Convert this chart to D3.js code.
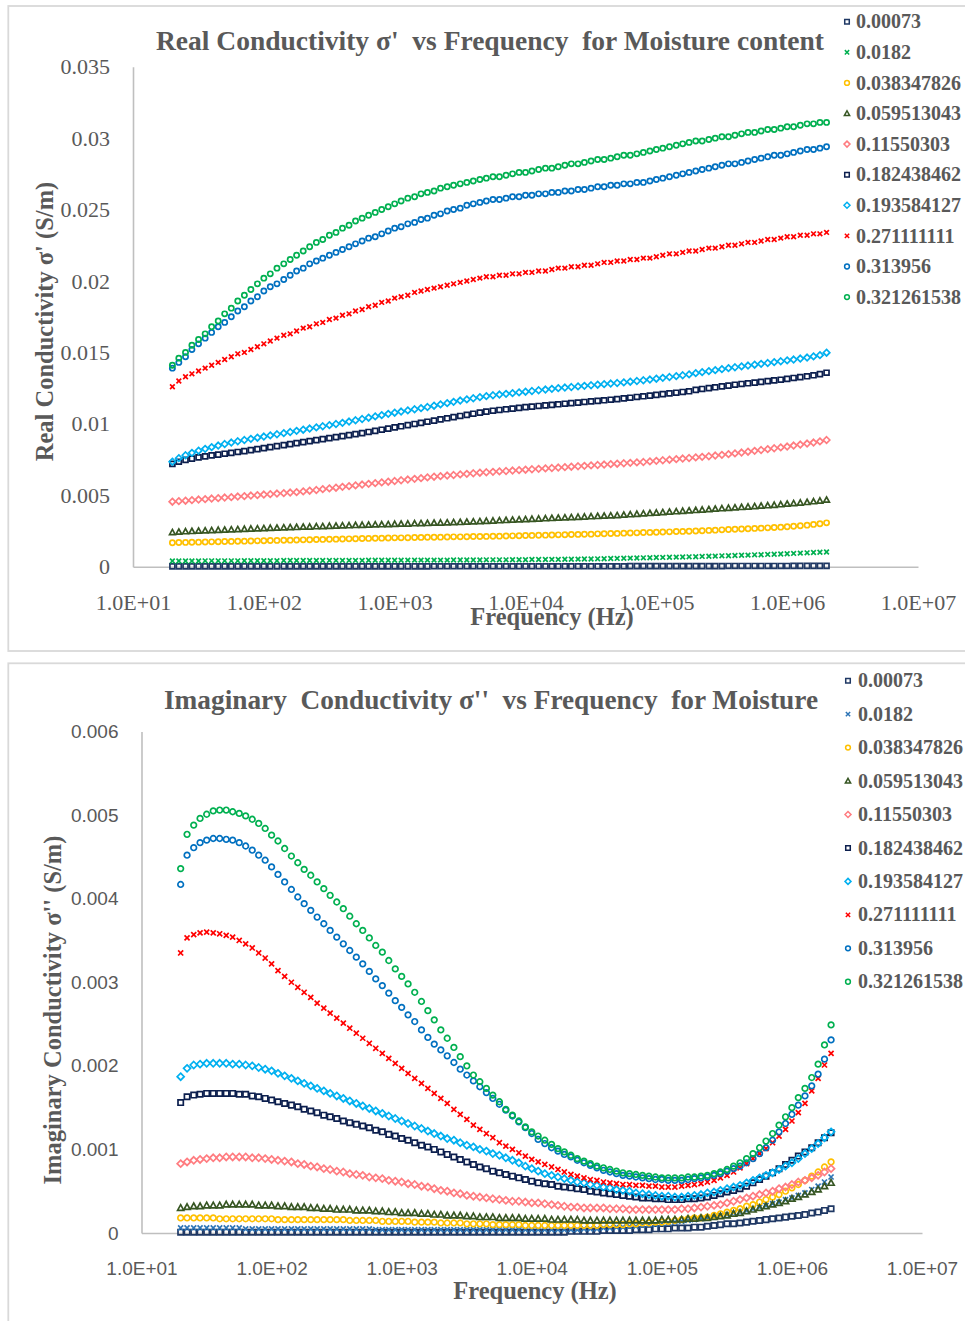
<!DOCTYPE html>
<html>
<head>
<meta charset="utf-8">
<script src="https://cdn.jsdelivr.net/npm/d3@7"></script>
<style>
  body { margin: 0; background: #fff; }
  svg { display: block; }
</style>
</head>
<body>
<div id="charts"></div>
<script>
// DATA (frequency grid shared by every series, values in S/m)
const freqHz = [
  20, 22.4, 25.2, 28.2, 31.7, 35.6, 39.9, 44.8, 50.2, 56.4, 63.2, 71.0, 79.6, 89.3, 100, 112, 126, 142, 159, 178,
  200, 224, 252, 282, 317, 356, 399, 448, 502, 564, 632, 710, 796, 893, 1000, 1120, 1260, 1420, 1590, 1780,
  2000, 2240, 2520, 2820, 3170, 3560, 3990, 4480, 5020, 5640, 6320, 7100, 7960, 8930, 10000, 11200, 12600, 14200, 15900, 17800,
  20000, 22400, 25200, 28200, 31700, 35600, 39900, 44800, 50200, 56400, 63200, 71000, 79600, 89300, 100000, 112000, 126000, 142000, 159000, 178000,
  200000, 224000, 252000, 282000, 317000, 356000, 399000, 448000, 502000, 564000, 632000, 710000, 796000, 893000, 1000000, 1120000, 1260000, 1420000, 1590000, 1780000,
  2000000
];

const moistureLabels = ['0.00073', '0.0182', '0.038347826', '0.059513043', '0.11550303',
                        '0.182438462', '0.193584127', '0.271111111', '0.313956', '0.321261538'];

const xTickValues = [1e1, 1e2, 1e3, 1e4, 1e5, 1e6, 1e7];
const yTicksReal = [0, 0.005, 0.01, 0.015, 0.02, 0.025, 0.03, 0.035];
const yTicksImag = [0, 0.001, 0.002, 0.003, 0.004, 0.005, 0.006];

// Real conductivity, one array per moisture content
const realM1 = [
  .00002,.00002,.00002,.00002,.00002,.00002,.00002,.00002,.00002,.00002,.00002,.00002,.00002,.00002,.00002,.00002,.00002,.00002,.00002,.00002,
  .00002,.00002,.00002,.00002,.00002,.00002,.00002,.00002,.00002,.00002,.00002,.00002,.00002,.00002,.00002,.00002,.00002,.00002,.00002,.00002,
  .00003,.00003,.00003,.00003,.00003,.00003,.00003,.00003,.00003,.00003,.00003,.00003,.00003,.00003,.00003,.00003,.00003,.00003,.00003,.00003,
  .00003,.00003,.00003,.00003,.00003,.00003,.00003,.00003,.00003,.00003,.00004,.00004,.00004,.00004,.00004,.00004,.00004,.00004,.00004,.00004,
  .00004,.00004,.00004,.00004,.00004,.00005,.00005,.00005,.00005,.00005,.00005,.00005,.00005,.00005,.00005,.00006,.00006,.00006,.00006,.00006,.00006
];
const realM2 = [
  .00040,.00040,.00040,.00040,.00040,.00041,.00041,.00041,.00041,.00041,.00041,.00042,.00042,.00042,.00042,.00042,.00042,.00043,.00043,.00043,
  .00043,.00043,.00043,.00043,.00044,.00044,.00044,.00044,.00044,.00044,.00045,.00045,.00045,.00045,.00045,.00045,.00046,.00046,.00046,.00046,
  .00046,.00046,.00046,.00047,.00047,.00047,.00047,.00047,.00048,.00048,.00048,.00048,.00049,.00049,.00049,.00050,.00050,.00050,.00051,.00051,
  .00052,.00052,.00053,.00054,.00054,.00055,.00056,.00057,.00058,.00059,.00060,.00061,.00062,.00063,.00064,.00065,.00066,.00067,.00068,.00069,
  .00070,.00072,.00073,.00074,.00076,.00077,.00078,.00080,.00081,.00083,.00084,.00086,.00087,.00089,.00091,.00093,.00095,.00097,.00099,.00101,.00103
];
const realM3 = [
  .00168,.00169,.00170,.00171,.00172,.00173,.00174,.00175,.00176,.00177,.00178,.00179,.00180,.00181,.00182,.00183,.00184,.00185,.00186,.00187,
  .00188,.00189,.00190,.00191,.00192,.00193,.00194,.00195,.00196,.00197,.00198,.00199,.00200,.00201,.00202,.00202,.00203,.00204,.00205,.00206,
  .00206,.00207,.00208,.00209,.00209,.00210,.00211,.00211,.00212,.00213,.00214,.00215,.00216,.00217,.00218,.00219,.00220,.00221,.00222,.00223,
  .00224,.00225,.00226,.00227,.00228,.00230,.00231,.00232,.00233,.00235,.00236,.00237,.00239,.00240,.00241,.00243,.00244,.00246,.00247,.00248,
  .00250,.00252,.00254,.00256,.00258,.00260,.00262,.00264,.00266,.00268,.00270,.00272,.00274,.00277,.00280,.00283,.00287,.00291,.00296,.00301,.00307
];
const realM4 = [
  .00240,.00243,.00246,.00248,.00250,.00252,.00254,.00256,.00257,.00259,.00261,.00263,.00265,.00266,.00268,.00270,.00271,.00273,.00275,.00276,
  .00278,.00279,.00281,.00282,.00284,.00285,.00287,.00288,.00290,.00291,.00292,.00294,.00295,.00296,.00298,.00299,.00300,.00302,.00303,.00304,
  .00306,.00307,.00308,.00310,.00311,.00313,.00315,.00317,.00319,.00321,.00323,.00325,.00327,.00329,.00331,.00333,.00335,.00337,.00339,.00341,
  .00343,.00345,.00347,.00349,.00351,.00353,.00355,.00357,.00359,.00362,.00365,.00368,.00371,.00374,.00377,.00380,.00383,.00386,.00389,.00392,
  .00395,.00398,.00401,.00404,.00407,.00410,.00413,.00416,.00419,.00422,.00425,.00428,.00431,.00435,.00439,.00443,.00447,.00451,.00456,.00461,.00467
];
const realM5 = [
  .00455,.00459,.00462,.00466,.00470,.00473,.00477,.00480,.00484,.00487,.00491,.00494,.00498,.00501,.00505,.00508,.00512,.00515,.00519,.00522,
  .00527,.00532,.00537,.00543,.00548,.00553,.00559,.00564,.00569,.00575,.00580,.00585,.00590,.00595,.00600,.00605,.00610,.00615,.00620,.00625,
  .00630,.00634,.00638,.00642,.00646,.00650,.00654,.00658,.00661,.00664,.00667,.00670,.00673,.00676,.00679,.00682,.00685,.00688,.00691,.00694,
  .00697,.00700,.00703,.00706,.00709,.00712,.00715,.00718,.00721,.00724,.00727,.00730,.00733,.00737,.00741,.00745,.00749,.00753,.00757,.00761,
  .00765,.00769,.00773,.00778,.00783,.00788,.00793,.00799,.00805,.00811,.00817,.00823,.00829,.00835,.00841,.00848,.00855,.00862,.00869,.00877,.00887
];
const realM6 = [
  .00720,.00735,.00748,.00757,.00765,.00772,.00779,.00785,.00791,.00797,.00803,.00809,.00816,.00823,.00830,.00837,.00844,.00851,.00858,.00865,
  .00872,.00879,.00886,.00893,.00900,.00907,.00914,.00921,.00928,.00935,.00943,.00951,.00959,.00967,.00975,.00983,.00991,.00999,.01007,.01015,
  .01023,.01031,.01039,.01047,.01055,.01063,.01071,.01079,.01086,.01092,.01097,.01102,.01107,.01112,.01117,.01121,.01125,.01129,.01133,.01137,
  .01141,.01145,.01149,.01153,.01157,.01161,.01165,.01169,.01173,.01178,.01183,.01188,.01193,.01198,.01203,.01208,.01213,.01218,.01223,.01228,
  .01238,.01244,.01250,.01256,.01262,.01268,.01274,.01279,.01284,.01289,.01294,.01299,.01304,.01309,.01315,.01321,.01327,.01333,.01340,.01348,.01358
];
const realM7 = [
  .00735,.00760,.00780,.00797,.00812,.00825,.00837,.00848,.00859,.00869,.00878,.00887,.00895,.00903,.00911,.00919,.00927,.00935,.00943,.00951,
  .00959,.00967,.00975,.00983,.00991,.00999,.01007,.01016,.01025,.01034,.01043,.01052,.01061,.01070,.01078,.01086,.01094,.01102,.01110,.01118,
  .01127,.01136,.01145,.01154,.01163,.01171,.01179,.01187,.01194,.01200,.01205,.01210,.01215,.01220,.01225,.01230,.01235,.01240,.01245,.01250,
  .01254,.01258,.01262,.01266,.01270,.01274,.01278,.01282,.01286,.01290,.01295,.01300,.01305,.01310,.01316,.01322,.01328,.01334,.01340,.01346,
  .01355,.01362,.01369,.01376,.01383,.01390,.01396,.01402,.01408,.01414,.01420,.01426,.01432,.01438,.01444,.01450,.01457,.01464,.01472,.01481,.01498
];
const realM8 = [
  .0126,.0130,.0133,.0135,.0137,.0139,.0141,.0143,.0145,.0147,.0149,.0150,.0152,.0154,.0156,.0158,.0160,.0162,.0163,.0165,
  .0167,.0168,.0170,.0171,.0173,.0174,.0176,.0177,.0179,.0180,.0182,.0183,.0185,.0186,.0188,.0189,.0190,.0192,.0193,.0194,
  .0195,.0196,.0197,.0198,.0199,.0200,.0201,.0202,.0203,.0203,.0204,.0204,.0205,.0205,.0206,.0206,.0207,.0207,.0208,.0209,
  .0209,.0210,.0210,.0211,.0211,.0212,.0213,.0213,.0214,.0214,.0215,.0215,.0216,.0216,.0217,.0218,.0219,.0219,.0220,.0221,
  .0221,.0222,.0223,.0223,.0224,.0225,.0225,.0226,.0227,.0227,.0228,.0229,.0229,.0230,.0231,.0231,.0232,.0232,.0233,.0233,.0234
];
const realM9 = [
  .0139,.0143,.0147,.0152,.0156,.0160,.0164,.0168,.0171,.0175,.0179,.0182,.0186,.0189,.0193,.0196,.0198,.0201,.0204,.0207,
  .0209,.0212,.0214,.0216,.0218,.0220,.0222,.0224,.0226,.0228,.0230,.0231,.0233,.0235,.0237,.0238,.0240,.0241,.0243,.0244,
  .0246,.0247,.0249,.0250,.0251,.0253,.0254,.0255,.0256,.0257,.0257,.0258,.0259,.0259,.0260,.0260,.0261,.0261,.0262,.0262,
  .0263,.0263,.0264,.0264,.0265,.0266,.0266,.0267,.0267,.0268,.0268,.0269,.0269,.0270,.0271,.0272,.0273,.0274,.0275,.0276,
  .0277,.0278,.0279,.0280,.0281,.0282,.0282,.0283,.0284,.0285,.0286,.0287,.0288,.0288,.0289,.0290,.0291,.0292,.0292,.0293,.0294
];
const realM10 = [
  .0141,.0146,.0150,.0155,.0159,.0163,.0168,.0172,.0177,.0181,.0186,.0190,.0194,.0198,.0202,.0205,.0209,.0212,.0215,.0218,
  .0221,.0224,.0227,.0229,.0232,.0234,.0237,.0239,.0242,.0244,.0246,.0248,.0250,.0252,.0254,.0256,.0258,.0259,.0261,.0262,
  .0263,.0265,.0266,.0267,.0268,.0269,.0270,.0271,.0272,.0273,.0273,.0274,.0275,.0276,.0276,.0277,.0278,.0279,.0279,.0280,
  .0281,.0282,.0282,.0283,.0284,.0285,.0285,.0286,.0287,.0288,.0288,.0289,.0290,.0291,.0292,.0293,.0294,.0295,.0296,.0297,
  .0298,.0298,.0299,.0300,.0301,.0301,.0302,.0303,.0304,.0304,.0305,.0306,.0306,.0307,.0308,.0308,.0309,.0310,.0310,.0311,.0311
];

// Imaginary conductivity, one array per moisture content
const imagM1 = [
  .00001,.00001,.00001,.00001,.00001,.00001,.00001,.00001,.00001,.00001,.00001,.00001,.00001,.00001,.00001,.00001,.00001,.00001,.00001,.00001,
  .00001,.00001,.00001,.00001,.00001,.00001,.00001,.00001,.00001,.00001,.00001,.00001,.00001,.00001,.00001,.00001,.00001,.00001,.00001,.00001,
  .00001,.00001,.00001,.00001,.00001,.00001,.00001,.00001,.00001,.00001,.00001,.00001,.00001,.00001,.00001,.00001,.00001,.00001,.00001,.00001,
  .00002,.00002,.00002,.00002,.00002,.00003,.00003,.00003,.00003,.00003,.00004,.00004,.00004,.00005,.00005,.00005,.00006,.00006,.00006,.00007,
  .00007,.00008,.00009,.00010,.00011,.00011,.00012,.00013,.00014,.00015,.00016,.00017,.00018,.00019,.00020,.00021,.00022,.00024,.00025,.00027,.00029
];
const imagM2 = [
  .00006,.00006,.00006,.00006,.00006,.00006,.00006,.00006,.00006,.00006,.00005,.00005,.00005,.00005,.00005,.00005,.00005,.00005,.00005,.00005,
  .00005,.00005,.00005,.00005,.00005,.00005,.00005,.00005,.00005,.00005,.00004,.00004,.00004,.00004,.00004,.00004,.00004,.00004,.00004,.00004,
  .00004,.00004,.00004,.00004,.00004,.00004,.00004,.00004,.00004,.00004,.00004,.00004,.00004,.00004,.00004,.00004,.00004,.00004,.00004,.00004,
  .00004,.00004,.00005,.00005,.00005,.00006,.00006,.00007,.00007,.00008,.00008,.00009,.00010,.00010,.00011,.00012,.00013,.00014,.00015,.00016,
  .00017,.00018,.00019,.00021,.00022,.00024,.00025,.00027,.00029,.00031,.00033,.00035,.00037,.00040,.00042,.00045,.00048,.00052,.00056,.00061,.00067
];
const imagM3 = [
  .00018,.00018,.00018,.00018,.00018,.00018,.00017,.00017,.00017,.00017,.00017,.00017,.00017,.00017,.00017,.00016,.00016,.00016,.00016,.00016,
  .00016,.00016,.00016,.00016,.00016,.00016,.00015,.00015,.00015,.00015,.00015,.00014,.00014,.00014,.00014,.00014,.00013,.00013,.00013,.00013,
  .00012,.00012,.00012,.00012,.00011,.00011,.00011,.00011,.00010,.00010,.00010,.00010,.00010,.00009,.00009,.00009,.00009,.00009,.00009,.00009,
  .00009,.00009,.00009,.00009,.00009,.00010,.00010,.00010,.00010,.00011,.00011,.00012,.00012,.00013,.00013,.00014,.00015,.00016,.00017,.00018,
  .00018,.00019,.00021,.00023,.00025,.00027,.00029,.00032,.00034,.00037,.00040,.00043,.00046,.00050,.00054,.00058,.00063,.00068,.00073,.00079,.00085
];
const imagM4 = [
  .00030,.00031,.00032,.00032,.00033,.00033,.00033,.00034,.00034,.00034,.00034,.00034,.00033,.00033,.00033,.00032,.00032,.00031,.00031,.00031,
  .00030,.00030,.00029,.00029,.00028,.00028,.00028,.00027,.00027,.00027,.00026,.00026,.00025,.00025,.00024,.00024,.00024,.00023,.00023,.00022,
  .00022,.00021,.00021,.00021,.00020,.00020,.00019,.00019,.00019,.00018,.00018,.00018,.00018,.00017,.00017,.00017,.00017,.00016,.00016,.00016,
  .00016,.00016,.00015,.00015,.00015,.00015,.00015,.00015,.00015,.00015,.00015,.00015,.00015,.00015,.00016,.00016,.00016,.00016,.00017,.00017,
  .00018,.00018,.00019,.00020,.00021,.00023,.00024,.00026,.00028,.00030,.00032,.00034,.00036,.00038,.00041,.00043,.00046,.00049,.00052,.00056,.00060
];
const imagM5 = [
  .00083,.00085,.00087,.00088,.00089,.00090,.00090,.00091,.00091,.00091,.00091,.00090,.00090,.00089,.00088,.00087,.00086,.00085,.00083,.00082,
  .00080,.00079,.00077,.00076,.00074,.00073,.00071,.00070,.00069,.00067,.00066,.00065,.00063,.00062,.00061,.00059,.00058,.00056,.00055,.00053,
  .00051,.00050,.00048,.00047,.00045,.00044,.00043,.00042,.00041,.00040,.00039,.00038,.00038,.00037,.00036,.00036,.00035,.00034,.00033,.00032,
  .00031,.00031,.00030,.00030,.00030,.00030,.00029,.00029,.00029,.00028,.00028,.00028,.00028,.00028,.00028,.00028,.00028,.00029,.00029,.00030,
  .00031,.00032,.00033,.00034,.00036,.00038,.00040,.00042,.00044,.00046,.00048,.00050,.00053,.00055,.00058,.00061,.00063,.00066,.00069,.00073,.00077
];
const imagM6 = [
  .00156,.00163,.00165,.00166,.00167,.00167,.00167,.00167,.00167,.00166,.00166,.00164,.00163,.00161,.00159,.00157,.00155,.00153,.00151,.00148,
  .00146,.00144,.00141,.00139,.00137,.00134,.00132,.00130,.00128,.00126,.00123,.00121,.00118,.00116,.00113,.00111,.00108,.00105,.00103,.00100,
  .00097,.00094,.00091,.00088,.00085,.00082,.00079,.00077,.00074,.00072,.00070,.00068,.00066,.00064,.00062,.00060,.00059,.00058,.00056,.00055,
  .00054,.00053,.00052,.00050,.00049,.00048,.00047,.00046,.00045,.00044,.00043,.00042,.00042,.00041,.00041,.00040,.00040,.00040,.00041,.00041,
  .00042,.00043,.00045,.00047,.00049,.00051,.00053,.00056,.00060,.00064,.00068,.00072,.00077,.00082,.00087,.00092,.00097,.00102,.00108,.00114,.00120
];
const imagM7 = [
  .00187,.00197,.00201,.00202,.00203,.00203,.00203,.00203,.00202,.00202,.00201,.00200,.00198,.00196,.00194,.00191,.00188,.00185,.00182,.00179,
  .00176,.00173,.00170,.00167,.00164,.00161,.00158,.00155,.00152,.00149,.00146,.00143,.00140,.00137,.00134,.00131,.00128,.00125,.00122,.00119,
  .00116,.00113,.00111,.00108,.00105,.00103,.00100,.00098,.00095,.00093,.00090,.00087,.00084,.00080,.00077,.00074,.00071,.00069,.00067,.00065,
  .00063,.00061,.00060,.00058,.00057,.00055,.00054,.00052,.00051,.00050,.00048,.00047,.00046,.00045,.00044,.00044,.00043,.00043,.00044,.00045,
  .00046,.00048,.00049,.00051,.00053,.00055,.00057,.00060,.00063,.00066,.00069,.00072,.00076,.00080,.00084,.00089,.00095,.00101,.00107,.00114,.00121
];
const imagM8 = [
  .00335,.00353,.00357,.00359,.00360,.00359,.00358,.00356,.00354,.00350,.00346,.00341,.00335,.00329,.00322,.00314,.00307,.00300,.00294,.00288,
  .00282,.00275,.00269,.00263,.00257,.00251,.00245,.00239,.00233,.00227,.00221,.00215,.00209,.00203,.00197,.00191,.00185,.00179,.00173,.00167,
  .00161,.00155,.00148,.00142,.00136,.00129,.00124,.00119,.00114,.00108,.00104,.00100,.00096,.00092,.00088,.00085,.00082,.00079,.00076,.00073,
  .00070,.00068,.00066,.00064,.00063,.00061,.00060,.00059,.00058,.00058,.00057,.00057,.00056,.00056,.00055,.00055,.00055,.00056,.00057,.00058,
  .00059,.00061,.00063,.00066,.00069,.00073,.00078,.00083,.00089,.00095,.00101,.00108,.00116,.00124,.00134,.00144,.00155,.00170,.00185,.00201,.00215
];
const imagM9 = [
  .00417,.00452,.00461,.00467,.00470,.00472,.00472,.00471,.00470,.00467,.00463,.00458,.00452,.00446,.00438,.00429,.00420,.00411,.00402,.00394,
  .00386,.00378,.00370,.00362,.00354,.00346,.00338,.00330,.00322,.00313,.00304,.00296,.00287,.00278,.00270,.00261,.00253,.00243,.00234,.00226,
  .00219,.00212,.00204,.00196,.00189,.00182,.00175,.00168,.00161,.00154,.00147,.00140,.00133,.00126,.00119,.00112,.00107,.00102,.00098,.00094,
  .00091,.00087,.00084,.00081,.00078,.00075,.00073,.00071,.00069,.00068,.00067,.00066,.00065,.00064,.00064,.00063,.00063,.00063,.00064,.00065,
  .00066,.00067,.00069,.00071,.00074,.00077,.00080,.00084,.00089,.00095,.00102,.00111,.00121,.00131,.00142,.00153,.00164,.00176,.00190,.00208,.00231
];
const imagM10 = [
  .00436,.00477,.00488,.00496,.00501,.00505,.00506,.00506,.00504,.00502,.00499,.00495,.00490,.00484,.00476,.00469,.00460,.00451,.00443,.00435,
  .00428,.00420,.00412,.00404,.00396,.00388,.00379,.00370,.00362,.00353,.00344,.00336,.00326,.00316,.00307,.00298,.00288,.00277,.00266,.00255,
  .00243,.00233,.00222,.00211,.00200,.00189,.00181,.00173,.00165,.00157,.00148,.00141,.00134,.00127,.00121,.00116,.00111,.00106,.00101,.00097,
  .00093,.00089,.00086,.00083,.00080,.00078,.00076,.00074,.00072,.00071,.00070,.00069,.00068,.00067,.00066,.00066,.00066,.00066,.00067,.00067,
  .00068,.00069,.00071,.00073,.00076,.00080,.00084,.00089,.00095,.00102,.00110,.00119,.00129,.00139,.00150,.00162,.00173,.00186,.00202,.00225,.00249
];

// STYLE
const seriesShapes = ['square', 'x', 'circle', 'triangle', 'diamond', 'square', 'diamond', 'x', 'circle', 'circle'];
const realColors = ['#1F3864', '#00B050', '#FFC000', '#375623', '#FF7C80', '#0C1F4E', '#00B0F0', '#FF0000', '#0070C0', '#00B050'];
const imagColors = ['#1F3864', '#2E75B6', '#FFC000', '#375623', '#FF7C80', '#0C1F4E', '#00B0F0', '#FF0000', '#0070C0', '#00B050'];

const serif = "'Liberation Serif','Times New Roman',serif";
const sans = "'Liberation Sans',Arial,sans-serif";
const textGray = '#595959';
const axisGray = '#BFBFBF';

let panels = [
    {
        boxTop: 6, boxBottom: 651,
        title: "Real Conductivity σ'  vs Frequency  for Moisture content", titleX: 490, titleY: 50, titleSize: 27.5,
        xRange: [133, 918], yRange: [566.7, 66.7], yDomain: [0, 0.035], yTicks: yTicksReal,
        tickFont: serif, tickSize: 22, xPad: 28, yPad: 23,
        xTitleX: 552, xTitleY: 625,
        yTitle: "Real Conductivity σ' (S/m)", yTitleX: 53, yTitleY: 321.5,
        legendMarkX: 847, legendTextX: 856, legendY0: 21.7, legendDy: 30.6,
        markerR: 2.6, markerW: 1.7,
        series: [realM1, realM2, realM3, realM4, realM5, realM6, realM7, realM8, realM9, realM10],
        colors: realColors
    },
    {
        boxTop: 663.3, boxBottom: 1340,
        title: "Imaginary  Conductivity σ''  vs Frequency  for Moisture", titleX: 491, titleY: 708.5, titleSize: 27.3,
        xRange: [141.5, 922], yRange: [1233, 731.5], yDomain: [0, 0.006], yTicks: yTicksImag,
        tickFont: sans, tickSize: 19, xPad: 29, yPad: 23,
        xTitleX: 535, xTitleY: 1299,
        yTitle: "Imaginary Conductivity σ'' (S/m)", yTitleX: 61, yTitleY: 1010,
        legendMarkX: 848, legendTextX: 858, legendY0: 680.7, legendDy: 33.45,
        markerR: 2.8, markerW: 1.7,
        series: [imagM1, imagM2, imagM3, imagM4, imagM5, imagM6, imagM7, imagM8, imagM9, imagM10],
        colors: imagColors
    }
];

let svg = d3.select('#charts')
    .append('svg')
    .attr('width', 965)
    .attr('height', 1321);

panels.forEach(p => drawPanel(svg, p));

function drawPanel(svg, p) {
    let g = svg.append('g');

    // outer chart border
    g.append('rect')
        .attr('x', 8.3)
        .attr('y', p.boxTop)
        .attr('width', 980)
        .attr('height', p.boxBottom - p.boxTop)
        .attr('fill', '#fff')
        .attr('stroke', '#D9D9D9')
        .attr('stroke-width', 1.8);

    let xScale = d3.scaleLog().domain([10, 1e7]).range(p.xRange);
    let yScale = d3.scaleLinear().domain(p.yDomain).range(p.yRange);

    // axes
    let xAxis = g.append('g')
        .attr('transform', `translate(0,${p.yRange[0]})`)
        .call(d3.axisBottom(xScale)
            .tickValues(xTickValues)
            .tickFormat(expLabel)
            .tickSize(0)
            .tickPadding(p.xPad));

    let yAxis = g.append('g')
        .attr('transform', `translate(${p.xRange[0]},0)`)
        .call(d3.axisLeft(yScale)
            .tickValues(p.yTicks)
            .tickFormat(d => String(d))
            .tickSize(0)
            .tickPadding(p.yPad));

    [xAxis, yAxis].forEach(a => {
        a.select('.domain').attr('stroke', axisGray).attr('stroke-width', 1.6);
        a.selectAll('text')
            .attr('fill', textGray)
            .style('font-family', p.tickFont)
            .style('font-size', p.tickSize + 'px');
    });

    // titles
    g.append('text')
        .attr('x', p.titleX)
        .attr('y', p.titleY)
        .attr('text-anchor', 'middle')
        .style('white-space', 'pre')
        .style('font-family', serif)
        .style('font-weight', 'bold')
        .style('font-size', p.titleSize + 'px')
        .attr('fill', textGray)
        .text(p.title);

    g.append('text')
        .attr('x', p.xTitleX)
        .attr('y', p.xTitleY)
        .attr('text-anchor', 'middle')
        .style('font-family', serif)
        .style('font-weight', 'bold')
        .style('font-size', '24.5px')
        .attr('fill', textGray)
        .text('Frequency (Hz)');

    g.append('text')
        .attr('transform', `translate(${p.yTitleX},${p.yTitleY}) rotate(-90)`)
        .attr('text-anchor', 'middle')
        .style('font-family', serif)
        .style('font-weight', 'bold')
        .style('font-size', '24.5px')
        .attr('fill', textGray)
        .text(p.yTitle);

    // series, drawn first to last so the last one sits on top
    p.series.forEach((vals, i) => {
        g.append('g')
            .attr('class', 'series')
            .selectAll('path')
            .data(d3.zip(freqHz, vals))
            .enter()
            .append('path')
            .attr('transform', d => `translate(${xScale(d[0])},${yScale(d[1])})`)
            .attr('d', markerPath(seriesShapes[i], p.markerR))
            .attr('fill', 'none')
            .attr('stroke', p.colors[i])
            .attr('stroke-width', p.markerW);
    });

    // legend
    let legend = g.append('g')
        .selectAll('.legend-row')
        .data(moistureLabels)
        .enter()
        .append('g')
        .attr('class', 'legend-row')
        .attr('transform', (d, i) => `translate(0,${p.legendY0 + i * p.legendDy})`);

    legend.append('path')
        .attr('transform', `translate(${p.legendMarkX},0)`)
        .attr('d', (d, i) => markerPath(seriesShapes[i], 2.4))
        .attr('fill', 'none')
        .attr('stroke', (d, i) => p.colors[i])
        .attr('stroke-width', 1.5);

    legend.append('text')
        .attr('x', p.legendTextX)
        .attr('dy', '0.33em')
        .style('font-family', serif)
        .style('font-weight', 'bold')
        .style('font-size', '20px')
        .attr('fill', textGray)
        .text(d => d);
}

function expLabel(d) {
    let e = Math.round(Math.log10(d));
    return '1.0E+' + String(e).padStart(2, '0');
}

function markerPath(shape, s) {
    if (shape === 'circle') {
        return `M${s},0A${s},${s} 0 1,1 ${-s},0A${s},${s} 0 1,1 ${s},0Z`;
    }
    if (shape === 'square') {
        let h = s * 0.95;
        return `M${-h},${-h}H${h}V${h}H${-h}Z`;
    }
    if (shape === 'triangle') {
        return `M0,${-s * 1.15}L${s * 1.1},${s * 0.85}L${-s * 1.1},${s * 0.85}Z`;
    }
    if (shape === 'diamond') {
        let d = s * 1.25;
        return `M0,${-d}L${d},0L0,${d}L${-d},0Z`;
    }
    // x marker
    let h = s * 0.9;
    return `M${-h},${-h}L${h},${h}M${-h},${h}L${h},${-h}`;
}
</script>
</body>
</html>
